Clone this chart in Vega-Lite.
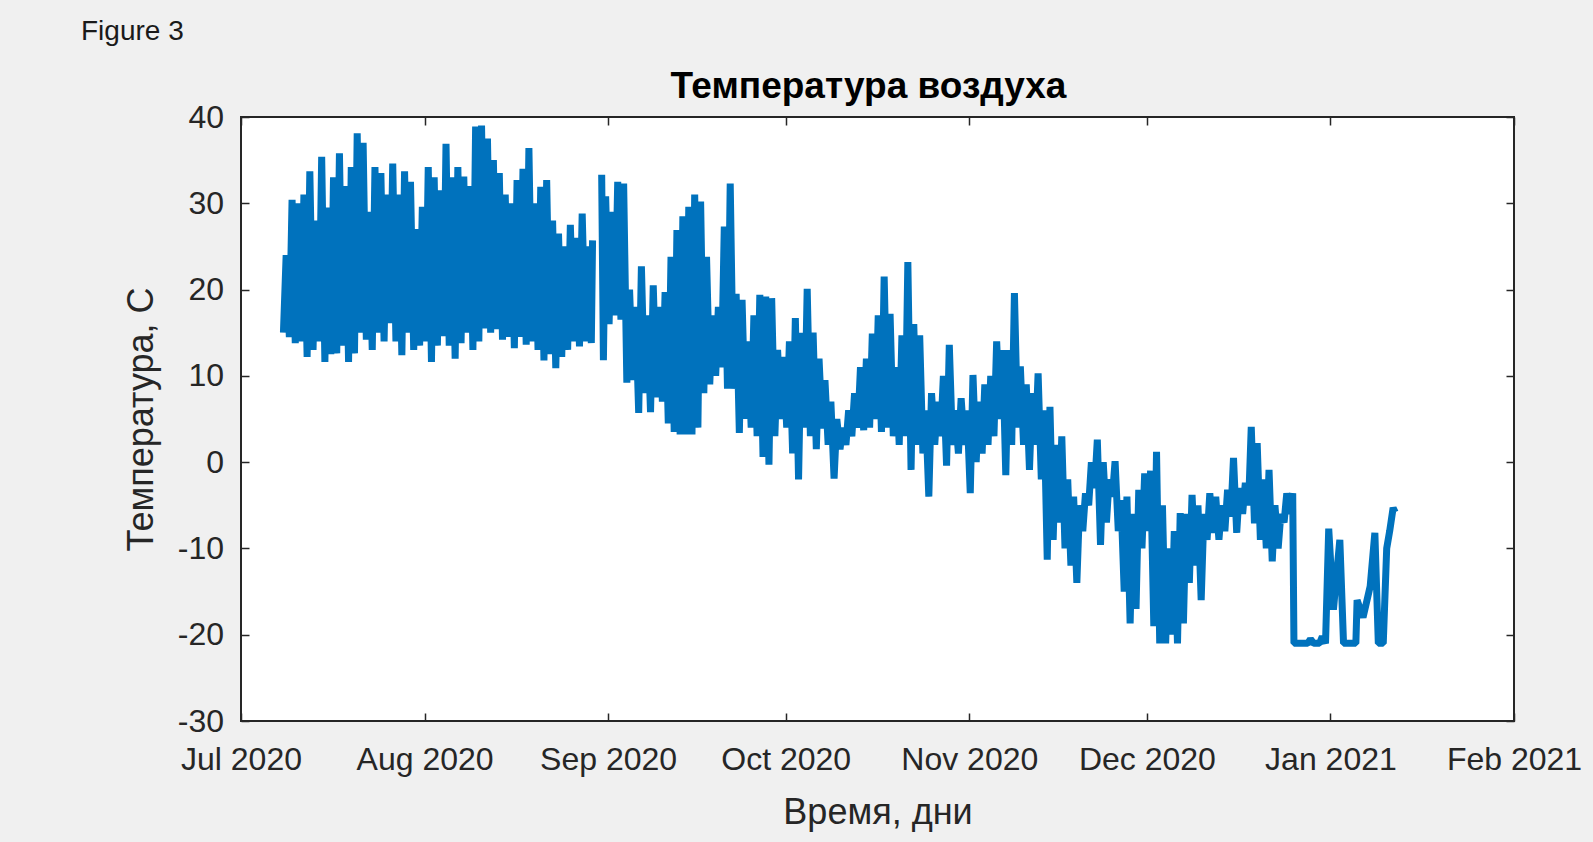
{
  "$schema": "https://vega.github.io/schema/vega-lite/v6.json",
  "autosize": {"type": "none"},
  "width": 1273,
  "height": 604,
  "padding": {"left": 241, "top": 117, "right": 79, "bottom": 121},
  "background": "#f0f0f0",
  "title": {"text": "Figure 3", "anchor": "start", "frame": "group", "dx": -160, "offset": 0, "baseline": "alphabetic", "font": "Liberation Sans", "fontSize": 28, "fontWeight": "normal", "color": "#1a1a1a"},
  "config": {
    "view": {"fill": "white", "stroke": "#262626", "strokeWidth": 2},
    "axis": {"grid": false, "domain": false, "labelFont": "Liberation Sans", "labelFontSize": 32, "labelColor": "#262626", "tickColor": "#262626", "tickSize": -8, "tickWidth": 1.5, "titleFont": "Liberation Sans", "titleFontSize": 36, "titleColor": "#262626", "titleFontWeight": "normal"}
  },
  "data": {"values": [
{"t":"2020-07-08T04:00","v":15},{"t":"2020-07-08T15:00","v":24},
{"t":"2020-07-09T04:00","v":14.5},{"t":"2020-07-09T15:00","v":30.4},
{"t":"2020-07-10T04:00","v":13.8},{"t":"2020-07-10T15:00","v":30},
{"t":"2020-07-11T04:00","v":14},{"t":"2020-07-11T15:00","v":31},
{"t":"2020-07-12T04:00","v":12.2},{"t":"2020-07-12T15:00","v":33.7},
{"t":"2020-07-13T04:00","v":13},{"t":"2020-07-13T15:00","v":28},
{"t":"2020-07-14T04:00","v":14},{"t":"2020-07-14T15:00","v":35.4},
{"t":"2020-07-15T04:00","v":11.6},{"t":"2020-07-15T15:00","v":29.5},
{"t":"2020-07-16T04:00","v":12.5},{"t":"2020-07-16T15:00","v":33},
{"t":"2020-07-17T04:00","v":12.6},{"t":"2020-07-17T15:00","v":35.8},
{"t":"2020-07-18T04:00","v":13.5},{"t":"2020-07-18T15:00","v":32},
{"t":"2020-07-19T04:00","v":11.6},{"t":"2020-07-19T15:00","v":34.2},
{"t":"2020-07-20T04:00","v":12.6},{"t":"2020-07-20T15:00","v":38.1},
{"t":"2020-07-21T04:00","v":15},{"t":"2020-07-21T15:00","v":37},
{"t":"2020-07-22T04:00","v":14.2},{"t":"2020-07-22T15:00","v":29},
{"t":"2020-07-23T04:00","v":13},{"t":"2020-07-23T15:00","v":34.2},
{"t":"2020-07-24T04:00","v":15},{"t":"2020-07-24T15:00","v":33.5},
{"t":"2020-07-25T04:00","v":14},{"t":"2020-07-25T15:00","v":31},
{"t":"2020-07-26T04:00","v":16.1},{"t":"2020-07-26T15:00","v":34.6},
{"t":"2020-07-27T04:00","v":14},{"t":"2020-07-27T15:00","v":31},
{"t":"2020-07-28T04:00","v":12.4},{"t":"2020-07-28T15:00","v":33.7},
{"t":"2020-07-29T04:00","v":15},{"t":"2020-07-29T15:00","v":32.5},
{"t":"2020-07-30T04:00","v":13},{"t":"2020-07-30T15:00","v":27},
{"t":"2020-07-31T04:00","v":13.5},{"t":"2020-07-31T15:00","v":29.6},
{"t":"2020-08-01T04:00","v":14},{"t":"2020-08-01T15:00","v":34.2},
{"t":"2020-08-02T04:00","v":11.6},{"t":"2020-08-02T15:00","v":33},
{"t":"2020-08-03T04:00","v":13.5},{"t":"2020-08-03T15:00","v":31.5},
{"t":"2020-08-04T04:00","v":14.6},{"t":"2020-08-04T15:00","v":36.9},
{"t":"2020-08-05T04:00","v":13.5},{"t":"2020-08-05T15:00","v":33},
{"t":"2020-08-06T04:00","v":12},{"t":"2020-08-06T15:00","v":34.2},
{"t":"2020-08-07T04:00","v":13.8},{"t":"2020-08-07T15:00","v":33.1},
{"t":"2020-08-08T04:00","v":15},{"t":"2020-08-08T15:00","v":32},
{"t":"2020-08-09T04:00","v":13},{"t":"2020-08-09T15:00","v":38.9},
{"t":"2020-08-10T04:00","v":14},{"t":"2020-08-10T15:00","v":39},
{"t":"2020-08-11T04:00","v":15.5},{"t":"2020-08-11T15:00","v":37.5},
{"t":"2020-08-12T04:00","v":15},{"t":"2020-08-12T15:00","v":35},
{"t":"2020-08-13T04:00","v":15.4},{"t":"2020-08-13T15:00","v":33.5},
{"t":"2020-08-14T04:00","v":14.2},{"t":"2020-08-14T15:00","v":31},
{"t":"2020-08-15T04:00","v":14.5},{"t":"2020-08-15T15:00","v":30},
{"t":"2020-08-16T04:00","v":13.2},{"t":"2020-08-16T15:00","v":32.7},
{"t":"2020-08-17T04:00","v":14.5},{"t":"2020-08-17T15:00","v":34},
{"t":"2020-08-18T04:00","v":13.6},{"t":"2020-08-18T15:00","v":36.4},
{"t":"2020-08-19T04:00","v":14},{"t":"2020-08-19T15:00","v":30},
{"t":"2020-08-20T04:00","v":13},{"t":"2020-08-20T15:00","v":31.9},
{"t":"2020-08-21T04:00","v":11.8},{"t":"2020-08-21T15:00","v":32.7},
{"t":"2020-08-22T04:00","v":12.5},{"t":"2020-08-22T15:00","v":28},
{"t":"2020-08-23T04:00","v":10.9},{"t":"2020-08-23T15:00","v":26.5},
{"t":"2020-08-24T04:00","v":12.2},{"t":"2020-08-24T15:00","v":25},
{"t":"2020-08-25T04:00","v":13},{"t":"2020-08-25T15:00","v":27.5},
{"t":"2020-08-26T04:00","v":14},{"t":"2020-08-26T15:00","v":26},
{"t":"2020-08-27T04:00","v":13.4},{"t":"2020-08-27T15:00","v":28.8},
{"t":"2020-08-28T04:00","v":14},{"t":"2020-08-28T15:00","v":25},
{"t":"2020-08-29T04:00","v":13.8},{"t":"2020-08-29T09:00","v":25.7},
{"t":"2020-08-30T06:00","v":null},
{"t":"2020-08-30T22:00","v":33.3},{"t":"2020-08-31T05:00","v":11.8},{"t":"2020-08-31T14:00","v":30.8},
{"t":"2020-09-01T04:00","v":16},{"t":"2020-09-01T15:00","v":29},
{"t":"2020-09-02T04:00","v":17},{"t":"2020-09-02T15:00","v":32.5},
{"t":"2020-09-03T04:00","v":16.5},{"t":"2020-09-03T15:00","v":32.3},
{"t":"2020-09-04T04:00","v":9.2},{"t":"2020-09-04T15:00","v":20},
{"t":"2020-09-05T04:00","v":9.5},{"t":"2020-09-05T15:00","v":18},
{"t":"2020-09-06T04:00","v":5.7},{"t":"2020-09-06T15:00","v":22.7},
{"t":"2020-09-07T04:00","v":8},{"t":"2020-09-07T15:00","v":17},
{"t":"2020-09-08T04:00","v":5.8},{"t":"2020-09-08T15:00","v":20.5},
{"t":"2020-09-09T04:00","v":7.5},{"t":"2020-09-09T15:00","v":18},
{"t":"2020-09-10T04:00","v":7},{"t":"2020-09-10T15:00","v":19.7},
{"t":"2020-09-11T04:00","v":4.5},{"t":"2020-09-11T15:00","v":23.8},
{"t":"2020-09-12T04:00","v":3.5},{"t":"2020-09-12T15:00","v":26.9},
{"t":"2020-09-13T04:00","v":3.2},{"t":"2020-09-13T15:00","v":28.5},
{"t":"2020-09-14T04:00","v":3.2},{"t":"2020-09-14T15:00","v":29.6},
{"t":"2020-09-15T04:00","v":3.2},{"t":"2020-09-15T15:00","v":31},
{"t":"2020-09-16T04:00","v":4},{"t":"2020-09-16T15:00","v":30.2},
{"t":"2020-09-17T04:00","v":8},{"t":"2020-09-17T15:00","v":23.8},
{"t":"2020-09-18T04:00","v":9},{"t":"2020-09-18T15:00","v":17},
{"t":"2020-09-19T04:00","v":10},{"t":"2020-09-19T15:00","v":18},
{"t":"2020-09-20T04:00","v":11},{"t":"2020-09-20T15:00","v":27.3},
{"t":"2020-09-21T04:00","v":8.5},{"t":"2020-09-21T15:00","v":32.3},
{"t":"2020-09-22T04:00","v":8.5},{"t":"2020-09-22T15:00","v":19.5},
{"t":"2020-09-23T04:00","v":3.4},{"t":"2020-09-23T15:00","v":18.8},
{"t":"2020-09-24T04:00","v":5},{"t":"2020-09-24T15:00","v":14},
{"t":"2020-09-25T04:00","v":4},{"t":"2020-09-25T15:00","v":17},
{"t":"2020-09-26T04:00","v":3},{"t":"2020-09-26T15:00","v":19.4},
{"t":"2020-09-27T04:00","v":0.6},{"t":"2020-09-27T15:00","v":19.2},
{"t":"2020-09-28T04:00","v":-0.3},{"t":"2020-09-28T15:00","v":19},
{"t":"2020-09-29T04:00","v":3},{"t":"2020-09-29T15:00","v":13},
{"t":"2020-09-30T04:00","v":5},{"t":"2020-09-30T15:00","v":12.2},
{"t":"2020-10-01T04:00","v":4},{"t":"2020-10-01T15:00","v":14},
{"t":"2020-10-02T04:00","v":1},{"t":"2020-10-02T15:00","v":16.7},
{"t":"2020-10-03T04:00","v":-2},{"t":"2020-10-03T15:00","v":15},
{"t":"2020-10-04T04:00","v":4},{"t":"2020-10-04T15:00","v":20.1},
{"t":"2020-10-05T04:00","v":3},{"t":"2020-10-05T15:00","v":15},
{"t":"2020-10-06T04:00","v":1.5},{"t":"2020-10-06T15:00","v":12},
{"t":"2020-10-07T04:00","v":3.9},{"t":"2020-10-07T15:00","v":9.5},
{"t":"2020-10-08T04:00","v":2},{"t":"2020-10-08T15:00","v":7},
{"t":"2020-10-09T04:00","v":-1.9},{"t":"2020-10-09T15:00","v":5},
{"t":"2020-10-10T04:00","v":1.5},{"t":"2020-10-10T15:00","v":4},
{"t":"2020-10-11T04:00","v":2},{"t":"2020-10-11T15:00","v":6},
{"t":"2020-10-12T04:00","v":3},{"t":"2020-10-12T15:00","v":8},
{"t":"2020-10-13T04:00","v":4},{"t":"2020-10-13T15:00","v":11},
{"t":"2020-10-14T04:00","v":3.7},{"t":"2020-10-14T15:00","v":12},
{"t":"2020-10-15T04:00","v":4},{"t":"2020-10-15T15:00","v":14.9},
{"t":"2020-10-16T04:00","v":5},{"t":"2020-10-16T15:00","v":17},
{"t":"2020-10-17T04:00","v":3.5},{"t":"2020-10-17T15:00","v":21.5},
{"t":"2020-10-18T04:00","v":4},{"t":"2020-10-18T15:00","v":17.2},
{"t":"2020-10-19T04:00","v":3},{"t":"2020-10-19T15:00","v":11},
{"t":"2020-10-20T04:00","v":2},{"t":"2020-10-20T15:00","v":14.7},
{"t":"2020-10-21T04:00","v":3},{"t":"2020-10-21T15:00","v":23.2},
{"t":"2020-10-22T04:00","v":-0.9},{"t":"2020-10-22T15:00","v":16},
{"t":"2020-10-23T04:00","v":2},{"t":"2020-10-23T15:00","v":14.7},
{"t":"2020-10-24T04:00","v":1},{"t":"2020-10-24T15:00","v":6},
{"t":"2020-10-25T04:00","v":-4},{"t":"2020-10-25T15:00","v":8},
{"t":"2020-10-26T04:00","v":2},{"t":"2020-10-26T15:00","v":7},
{"t":"2020-10-27T04:00","v":3},{"t":"2020-10-27T15:00","v":10},
{"t":"2020-10-28T04:00","v":-0.4},{"t":"2020-10-28T15:00","v":13.6},
{"t":"2020-10-29T04:00","v":2},{"t":"2020-10-29T15:00","v":6},
{"t":"2020-10-30T04:00","v":1},{"t":"2020-10-30T15:00","v":7.4},
{"t":"2020-10-31T04:00","v":2},{"t":"2020-10-31T15:00","v":6},
{"t":"2020-11-01T04:00","v":-3.6},{"t":"2020-11-01T15:00","v":10.1},
{"t":"2020-11-02T04:00","v":0},{"t":"2020-11-02T15:00","v":7},
{"t":"2020-11-03T04:00","v":1},{"t":"2020-11-03T15:00","v":9},
{"t":"2020-11-04T04:00","v":2},{"t":"2020-11-04T15:00","v":10},
{"t":"2020-11-05T04:00","v":3},{"t":"2020-11-05T15:00","v":14},
{"t":"2020-11-06T04:00","v":5},{"t":"2020-11-06T15:00","v":13},
{"t":"2020-11-07T04:00","v":-1.5},{"t":"2020-11-07T15:00","v":13},
{"t":"2020-11-08T04:00","v":2},{"t":"2020-11-08T15:00","v":19.6},
{"t":"2020-11-09T04:00","v":4},{"t":"2020-11-09T15:00","v":11.1},
{"t":"2020-11-10T04:00","v":2},{"t":"2020-11-10T15:00","v":9},
{"t":"2020-11-11T04:00","v":-0.9},{"t":"2020-11-11T15:00","v":8},
{"t":"2020-11-12T04:00","v":2},{"t":"2020-11-12T15:00","v":10.3},
{"t":"2020-11-13T04:00","v":-2},{"t":"2020-11-13T15:00","v":6},
{"t":"2020-11-14T04:00","v":-11.3},{"t":"2020-11-14T15:00","v":6.4},
{"t":"2020-11-15T04:00","v":-9},{"t":"2020-11-15T15:00","v":2},
{"t":"2020-11-16T04:00","v":-7},{"t":"2020-11-16T15:00","v":3},
{"t":"2020-11-17T04:00","v":-10},{"t":"2020-11-17T15:00","v":-2},
{"t":"2020-11-18T04:00","v":-12},{"t":"2020-11-18T15:00","v":-4},
{"t":"2020-11-19T04:00","v":-14},{"t":"2020-11-19T15:00","v":-5},
{"t":"2020-11-20T04:00","v":-8},{"t":"2020-11-20T15:00","v":-3.6},
{"t":"2020-11-21T04:00","v":-5},{"t":"2020-11-21T15:00","v":0},
{"t":"2020-11-22T04:00","v":-3},{"t":"2020-11-22T15:00","v":2.6},
{"t":"2020-11-23T04:00","v":-9.6},{"t":"2020-11-23T15:00","v":0},
{"t":"2020-11-24T04:00","v":-7},{"t":"2020-11-24T15:00","v":-2},
{"t":"2020-11-25T04:00","v":-4},{"t":"2020-11-25T15:00","v":0.1},
{"t":"2020-11-26T04:00","v":-8},{"t":"2020-11-26T15:00","v":-4.4},
{"t":"2020-11-27T04:00","v":-15},{"t":"2020-11-27T15:00","v":-4},
{"t":"2020-11-28T04:00","v":-18.7},{"t":"2020-11-28T15:00","v":-6},
{"t":"2020-11-29T04:00","v":-17},{"t":"2020-11-29T15:00","v":-3.2},
{"t":"2020-11-30T04:00","v":-10},{"t":"2020-11-30T15:00","v":-1.3},
{"t":"2020-12-01T04:00","v":-8},{"t":"2020-12-01T15:00","v":-1},
{"t":"2020-12-02T04:00","v":-19},{"t":"2020-12-02T15:00","v":1.2},
{"t":"2020-12-03T04:00","v":-21},{"t":"2020-12-03T15:00","v":-5},
{"t":"2020-12-04T04:00","v":-21},{"t":"2020-12-04T15:00","v":-10},
{"t":"2020-12-05T04:00","v":-20},{"t":"2020-12-05T15:00","v":-8},
{"t":"2020-12-06T04:00","v":-21},{"t":"2020-12-06T15:00","v":-5.9},
{"t":"2020-12-07T04:00","v":-18.7},{"t":"2020-12-07T15:00","v":-6},
{"t":"2020-12-08T04:00","v":-14},{"t":"2020-12-08T15:00","v":-3.8},
{"t":"2020-12-09T04:00","v":-12},{"t":"2020-12-09T15:00","v":-5},
{"t":"2020-12-10T04:00","v":-16},{"t":"2020-12-10T15:00","v":-6},
{"t":"2020-12-11T04:00","v":-9},{"t":"2020-12-11T15:00","v":-3.6},
{"t":"2020-12-12T04:00","v":-8.2},{"t":"2020-12-12T15:00","v":-4},
{"t":"2020-12-13T04:00","v":-9},{"t":"2020-12-13T15:00","v":-5},
{"t":"2020-12-14T04:00","v":-8},{"t":"2020-12-14T15:00","v":-3.2},
{"t":"2020-12-15T04:00","v":-6.3},{"t":"2020-12-15T15:00","v":0.5},
{"t":"2020-12-16T04:00","v":-8.2},{"t":"2020-12-16T15:00","v":-3},
{"t":"2020-12-17T04:00","v":-6},{"t":"2020-12-17T15:00","v":-2.4},
{"t":"2020-12-18T04:00","v":-5},{"t":"2020-12-18T15:00","v":4.1},
{"t":"2020-12-19T04:00","v":-7.1},{"t":"2020-12-19T15:00","v":2.2},
{"t":"2020-12-20T04:00","v":-9},{"t":"2020-12-20T15:00","v":-2},
{"t":"2020-12-21T04:00","v":-10},{"t":"2020-12-21T15:00","v":-0.9},
{"t":"2020-12-22T04:00","v":-11.5},{"t":"2020-12-22T15:00","v":-5},
{"t":"2020-12-23T04:00","v":-10},{"t":"2020-12-23T15:00","v":-6},
{"t":"2020-12-24T04:00","v":-7},{"t":"2020-12-24T15:00","v":-3.6},
{"t":"2020-12-25T04:00","v":-6},{"t":"2020-12-25T15:00","v":-3.6},{"t":"2020-12-25T20:00","v":-21},
{"t":"2020-12-26T15:00","v":-21},
{"t":"2020-12-27T15:00","v":-21},
{"t":"2020-12-28T04:00","v":-21},{"t":"2020-12-28T15:00","v":-20.5},
{"t":"2020-12-29T04:00","v":-21},{"t":"2020-12-29T15:00","v":-21},
{"t":"2020-12-30T04:00","v":-21},{"t":"2020-12-30T15:00","v":-20.2},
{"t":"2020-12-31T04:00","v":-21},{"t":"2020-12-31T17:00","v":-7.7},
{"t":"2021-01-01T12:00","v":-17.1},
{"t":"2021-01-02T14:00","v":-9},
{"t":"2021-01-03T05:00","v":-21},
{"t":"2021-01-05T07:00","v":-21},{"t":"2021-01-05T12:00","v":-16},
{"t":"2021-01-06T12:00","v":-18},
{"t":"2021-01-07T17:00","v":-14.4},
{"t":"2021-01-08T12:00","v":-8.2},
{"t":"2021-01-09T02:00","v":-21},{"t":"2021-01-09T22:00","v":-21},
{"t":"2021-01-10T12:00","v":-10},
{"t":"2021-01-11T00:00","v":-8},{"t":"2021-01-11T14:00","v":-5.3},{"t":"2021-01-11T22:00","v":-5.8}
  ]},
  "layer": [
    {
      "mark": {"type": "line", "color": "#0072BD", "strokeWidth": 7, "strokeJoin": "bevel", "invalid": "break-paths-show-domains", "clip": true},
      "encoding": {
        "x": {"field": "t", "type": "temporal",
          "scale": {"domain": [{"year": 2020, "month": "Jul", "date": 1}, {"year": 2021, "month": "Feb", "date": 1}]},
          "axis": {"orient": "bottom", "format": "%b %Y", "labelFlush": false, "labelOverlap": false, "labelPadding": 31.7,
            "values": [{"year": 2020, "month": "Jul", "date": 1}, {"year": 2020, "month": "Aug", "date": 1}, {"year": 2020, "month": "Sep", "date": 1}, {"year": 2020, "month": "Oct", "date": 1}, {"year": 2020, "month": "Nov", "date": 1}, {"year": 2020, "month": "Dec", "date": 1}, {"year": 2021, "month": "Jan", "date": 1}, {"year": 2021, "month": "Feb", "date": 1}],
            "title": "Время, дни", "titleBaseline": "alphabetic", "titleY": 102}},
        "y": {"field": "v", "type": "quantitative",
          "scale": {"domain": [-30, 40], "nice": false, "zero": false},
          "axis": {"orient": "left", "values": [-30, -20, -10, 0, 10, 20, 30, 40], "labelExpr": "'' + datum.value", "labelPadding": 25.5,
            "title": "Температура, С", "titleBaseline": "alphabetic", "titleX": -89}}
      }
    },
    {
      "mark": {"type": "point", "opacity": 0, "size": 0},
      "encoding": {
        "x": {"field": "t", "type": "temporal",
          "scale": {"domain": [{"year": 2020, "month": "Jul", "date": 1}, {"year": 2021, "month": "Feb", "date": 1}]},
          "axis": {"orient": "top", "labels": false,
            "values": [{"year": 2020, "month": "Jul", "date": 1}, {"year": 2020, "month": "Aug", "date": 1}, {"year": 2020, "month": "Sep", "date": 1}, {"year": 2020, "month": "Oct", "date": 1}, {"year": 2020, "month": "Nov", "date": 1}, {"year": 2020, "month": "Dec", "date": 1}, {"year": 2021, "month": "Jan", "date": 1}, {"year": 2021, "month": "Feb", "date": 1}],
            "title": "Температура воздуха", "titleFontWeight": "bold", "titleFontSize": 37, "titleColor": "#000000", "titleBaseline": "alphabetic", "titleAlign": "center", "titleX": 627, "titleY": -19.5}},
        "y": {"field": "v", "type": "quantitative",
          "scale": {"domain": [-30, 40], "nice": false, "zero": false},
          "axis": {"orient": "right", "labels": false, "values": [-30, -20, -10, 0, 10, 20, 30, 40], "title": null}}
      }
    }
  ],
  "resolve": {"axis": {"x": "independent", "y": "independent"}}
}
